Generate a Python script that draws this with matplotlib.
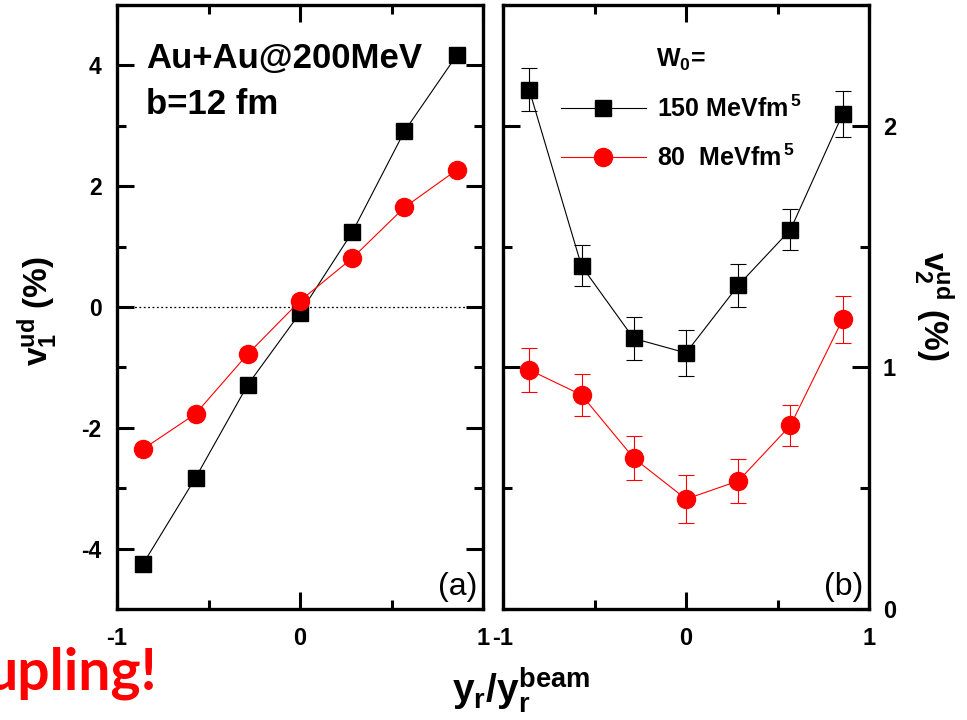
import numpy as np
import matplotlib
matplotlib.use("Agg")
import matplotlib.pyplot as plt
from matplotlib.lines import Line2D
from matplotlib.ticker import MultipleLocator

# rapidity bins, y_r / y_r^beam
rap = [-0.857, -0.571, -0.286, 0.0, 0.286, 0.571, 0.857]

# directed flow v1^ud (%)
v1_w150 = [-4.25, -2.83, -1.29, -0.10, 1.24, 2.91, 4.17]
v1_w80 = [-2.35, -1.77, -0.78, 0.10, 0.81, 1.65, 2.27]

# elliptic flow v2^ud (%) with statistical errors
v2_w150 = [2.15, 1.42, 1.12, 1.06, 1.34, 1.57, 2.05]
v2_w150_err = [0.09, 0.085, 0.09, 0.095, 0.09, 0.085, 0.095]
v2_w80 = [0.99, 0.886, 0.625, 0.455, 0.53, 0.76, 1.20]
v2_w80_err = [0.09, 0.087, 0.09, 0.10, 0.09, 0.085, 0.097]

labels = ["150 MeVfm$^{\\,5}$", "80  MeVfm$^{\\,5}$"]

plt.rcParams['font.family'] = ['Liberation Sans', 'DejaVu Sans']
plt.rcParams['font.weight'] = 'bold'
plt.rcParams['axes.unicode_minus'] = False
plt.rcParams['mathtext.fontset'] = 'custom'
plt.rcParams['mathtext.rm'] = 'Liberation Sans:bold'
plt.rcParams['mathtext.it'] = 'Liberation Sans:bold'
plt.rcParams['mathtext.bf'] = 'Liberation Sans:bold'
plt.rcParams['mathtext.default'] = 'regular'

W, H = 967, 720
fig = plt.figure(figsize=(W / 100, H / 100), dpi=100)
ax1 = fig.add_axes([117 / W, 1 - 609 / H, 366 / W, 604 / H])
ax2 = fig.add_axes([503 / W, 1 - 609 / H, 366 / W, 604 / H])


def style_axes(ax):
    for sp in ax.spines.values():
        sp.set_linewidth(2.4)
    ax.tick_params(which='both', direction='in', top=True, right=True, width=2.2)
    ax.tick_params(which='major', length=12)
    ax.tick_params(which='minor', length=6.5)
    ax.set_xlim(-1, 1)
    ax.xaxis.set_major_locator(MultipleLocator(1))
    ax.xaxis.set_minor_locator(MultipleLocator(0.5))
    ax.tick_params(axis='x', labelsize=17, pad=13)


# (a) v1
style_axes(ax1)
ax1.axhline(0, color='black', lw=0.9, ls=(0, (1.5, 2)))
ax1.plot(rap, v1_w150, color='black', lw=0.8, marker='s', ms=11.5,
         mec='black', mfc='black')
ax1.plot(rap, v1_w80, color='red', lw=0.8, marker='o', ms=13,
         mec='red', mfc='red')
ax1.set_ylim(-5, 5)
ax1.yaxis.set_major_locator(MultipleLocator(2))
ax1.yaxis.set_minor_locator(MultipleLocator(1))
ax1.tick_params(axis='y', labelsize=16.5, pad=11)
ax1.text(0.08, 0.895, "Au+Au@200MeV", transform=ax1.transAxes,
         fontsize=25, va='baseline')
ax1.text(0.08, 0.82, "b=12 fm", transform=ax1.transAxes,
         fontsize=25, va='baseline')
ax1.text(0.985, 0.012, "(a)", transform=ax1.transAxes, fontsize=23,
         fontweight='normal', ha='right', va='bottom')

# (b) v2
style_axes(ax2)
ax2.errorbar(rap, v2_w150, yerr=v2_w150_err, color='black', lw=0.8,
             marker='s', ms=11.5, capsize=6, elinewidth=0.8, capthick=0.8)
ax2.errorbar(rap, v2_w80, yerr=v2_w80_err, color='red', lw=0.8,
             marker='o', ms=13, capsize=6, elinewidth=0.8, capthick=0.8)
ax2.set_ylim(0, 2.5)
ax2.yaxis.set_major_locator(MultipleLocator(1))
ax2.yaxis.set_minor_locator(MultipleLocator(0.5))
ax2.tick_params(axis='y', labelleft=False, labelright=True, labelsize=17, pad=10)
ax2.text(0.985, 0.012, "(b)", transform=ax2.transAxes, fontsize=23,
         fontweight='normal', ha='right', va='bottom')

handles = [Line2D([], [], color='black', lw=0.8, marker='s', ms=11.5),
           Line2D([], [], color='red', lw=0.8, marker='o', ms=13)]
leg = ax2.legend(handles, labels, title="W$_0$=", loc='upper left',
                 bbox_to_anchor=(0.11, 0.96), frameon=False, fontsize=18,
                 title_fontsize=18, handlelength=3.4, handletextpad=0.45,
                 labelspacing=0.9, borderpad=0.2)

# axis titles
fig.text(38 / W, 1 - 311 / H, "v$_1^{ud}$ (%)", rotation=90, fontsize=24,
         ha='center', va='center')
fig.text(933 / W, 1 - 306 / H, "v$_2^{ud}$ (%)", rotation=-90, fontsize=24,
         ha='center', va='center')
fig.text(521 / W, 1 - 702 / H, "y$_r$/y$_r^{beam}$", fontsize=28,
         ha='center', va='baseline')

fig.text(157 / W, 1 - 690 / H, "upling!", color='red', fontsize=41,
         family='Lato', fontweight='bold', ha='right', va='baseline')

fig.savefig("out.png", dpi=100)
